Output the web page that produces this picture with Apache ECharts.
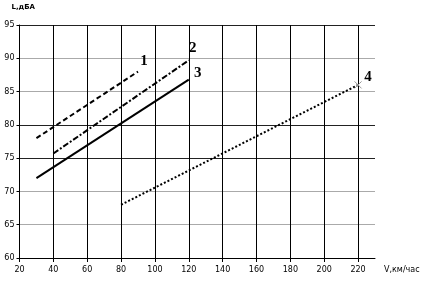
<!DOCTYPE html>
<html><head><meta charset="utf-8">
<script src="https://cdn.jsdelivr.net/npm/echarts@6/dist/echarts.min.js"></script>
<style>html,body{margin:0;padding:0;background:#fff}#c{width:424px;height:288px}</style>
</head><body><div id="c"></div>
<script>
const line1 = [[30, 78], [90, 88]];
const line2 = [[40, 75.7], [120, 89.7]];
const line3 = [[30, 72], [120, 86.8]];
const line4 = [[80, 68], [220, 86]];
const seriesNames = ['1', '2', '3', '4'];
const xTitle = 'V,км/час';
const yTitle = 'L,дБА';

const chart = echarts.init(document.getElementById('c'), null, {renderer: 'canvas'});
const font = 'DejaVu Sans';
function mk(name, data, dash, lab) {
  const last = data[data.length - 1];
  return {
    type: 'line', name: name, data: data, showSymbol: false, symbol: 'none',
    lineStyle: {color: '#000', width: 2, type: dash},
    markPoint: {
      symbol: 'circle', symbolSize: 1, itemStyle: {color: 'rgba(0,0,0,0)'},
      label: {show: true, formatter: name, fontFamily: 'Liberation Serif', fontWeight: 'bold',
        fontSize: 15, color: '#000', position: 'inside', offset: lab},
      data: [{coord: last}]
    },
    animation: false, silent: true
  };
}
const s4 = mk(seriesNames[3], line4, [2, 2], [10, -8]);
s4.markPoint.data.push({coord: line4[line4.length - 1], symbol: 'path://M0,0L10,10M10,0L0,10', symbolSize: 7,
  itemStyle: {color: 'none', borderColor: '#999', borderWidth: 1}, label: {show: false}});
chart.setOption({
  animation: false,
  grid: {left: 19.5, right: 49, top: 25, bottom: 30},
  xAxis: {
    type: 'value', min: 20, max: 230, interval: 20,
    name: xTitle, nameLocation: 'end', nameGap: 9,
    nameTextStyle: {fontFamily: font, fontSize: 8, color: '#000', align: 'left', verticalAlign: 'top', padding: [8, 0, 0, 0]},
    axisLine: {lineStyle: {color: '#000', width: 1}},
    axisTick: {show: true, length: 4, lineStyle: {color: '#000'}},
    axisLabel: {fontFamily: font, fontSize: 8, color: '#000', margin: 8, showMaxLabel: false},
    splitLine: {show: true, showMaxLine: false, lineStyle: {color: '#000', width: 1}}
  },
  yAxis: {
    type: 'value', min: 60, max: 95, interval: 5,
    name: yTitle, nameLocation: 'end', nameGap: 14,
    nameTextStyle: {fontFamily: font, fontSize: 7, color: '#000', fontWeight: 'bold', align: 'left', padding: [0, 0, 0, -8]},
    axisLine: {show: true, lineStyle: {color: '#000', width: 1}},
    axisTick: {show: true, length: 3, lineStyle: {color: '#000'}},
    axisLabel: {fontFamily: font, fontSize: 8, color: '#000', margin: 5},
    splitLine: {show: true, lineStyle: {color: ['#222', '#aaa', '#aaa', '#222', '#222', '#aaa', '#aaa', '#222'], width: 1}}
  },
  series: [
    mk(seriesNames[0], line1, [5, 3], [6, -10]),
    mk(seriesNames[1], line2, [6, 2, 2, 2], [4, -12]),
    mk(seriesNames[2], line3, 'solid', [9, -6]),
    s4
  ]
});
</script></body></html>
